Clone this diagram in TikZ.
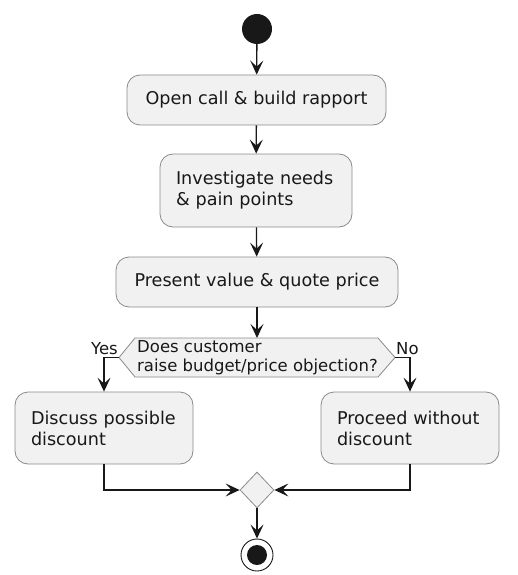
\documentclass[tikz,border=0pt]{standalone}
\usepackage{fontspec}
\setmainfont{DejaVu Sans}
\usetikzlibrary{arrows.meta,shapes.geometric}
\definecolor{boxfill}{HTML}{F1F1F1}
\definecolor{boxline}{HTML}{8A8A8A}
\definecolor{ink}{HTML}{181818}
\tikzset{
  act/.style={draw=boxline, fill=boxfill, line width=0.8pt, rounded corners=13pt,
    inner sep=0pt, font=\fontsize{17.6}{21}\selectfont, text=ink},
  flow/.style={draw=ink, line width=1.3pt,
    -{Stealth[length=14pt,width=13pt,inset=6pt]}},
  lbl/.style={font=\fontsize{16.5}{19}\selectfont, text=ink, inner sep=0pt},
}
\begin{document}
\begin{tikzpicture}[x=1pt,y=-1pt]
\useasboundingbox (0,0) rectangle (517,575);
\node[circle, fill=ink, minimum size=30pt, inner sep=0pt] (start) at (257,29) {};
\node[act, minimum width=259pt, minimum height=50pt] (a1) at (256.5,100) {Open call \& build rapport};
\node[act, minimum width=192pt, minimum height=73pt, align=left, text width=160pt] (a2) at (256,190.5) {Investigate needs\\\& pain points};
\node[act, minimum width=282pt, minimum height=50pt] (a3) at (257,282) {Present value \& quote price};
\filldraw[draw=boxline, fill=boxfill, line width=0.8pt]
  (119,357.5) -- (135,338) -- (378,338) -- (395,357.5) -- (378,377) -- (135,377) -- cycle;
\node[lbl, anchor=west, align=left] (q) at (137,357.5) {Does customer\\raise budget/price objection?};
\coordinate (dl) at (119,357.5);
\coordinate (dr) at (395,357.5);
\node[lbl, anchor=south east] (yes) at (118,355) {Yes};
\node[lbl, anchor=south west] (no) at (396,355) {No};
\node[act, minimum width=178pt, minimum height=72pt, align=left, text width=146pt] (a4) at (104,428) {Discuss possible\\discount};
\node[act, minimum width=178pt, minimum height=72pt, align=left, text width=146pt] (a5) at (410,428) {Proceed without\\discount};
\node[diamond, draw=boxline, fill=boxfill, line width=0.8pt, minimum width=34pt, minimum height=36pt, inner sep=0pt] (m) at (257,490) {};
\node[circle, draw=ink, line width=0.9pt, fill=white, minimum size=32pt, inner sep=0pt] (end) at (257,555) {};
\node[circle, fill=ink, minimum size=20pt, inner sep=0pt] (endin) at (257,555) {};
\draw[flow] (start) -- (a1);
\draw[flow] (a1) -- (a2);
\draw[flow] (a2) -- (a3);
\draw[flow] (a3) -- (257,338);
\draw[flow] (dl) -| (a4.north);
\draw[flow] (dr) -| (a5.north);
\draw[flow] (a4.south) |- (m.west);
\draw[flow] (a5.south) |- (m.east);
\draw[flow] (m) -- (end);
\end{tikzpicture}
\end{document}
